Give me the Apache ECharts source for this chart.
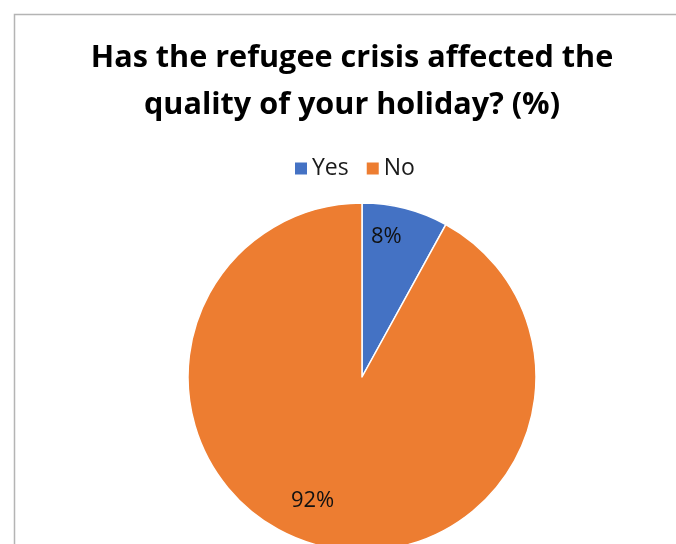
<!DOCTYPE html>
<html><head><meta charset="utf-8">
<script src="https://cdn.jsdelivr.net/npm/echarts@6/dist/echarts.min.js"></script>
<style>html,body{margin:0;padding:0;background:#fff}#c{width:676px;height:544px}</style>
</head><body><div id="c"></div>
<script>
const titleText = "Has the refugee crisis affected the\nquality of your holiday? (%)";
const categories = ["Yes", "No"];
const values = [8, 92];
const colors = ["#4472C4", "#ED7D31"];
const labelShift = [[2, -53], [-27, 37]];

const chart = echarts.init(document.getElementById('c'), null, {renderer: 'canvas'});
chart.setOption({
  backgroundColor: '#fff',
  animation: false,
  graphic: [{
    type: 'rect', left: 12, top: 12, z: -1,
    shape: {width: 720, height: 600},
    style: {fill: 'none', stroke: '#b4b4b4', lineWidth: 1.5}
  }],
  title: {
    text: titleText, left: 347, top: 30, textAlign: 'center',
    textStyle: {fontFamily: 'Open Sans', fontWeight: 'bold', fontSize: 30.6, lineHeight: 47, color: '#000'}
  },
  legend: {
    data: categories, top: 152, left: 288, itemWidth: 14, itemHeight: 14, itemGap: 16,
    icon: 'rect',
    textStyle: {fontFamily: 'Open Sans', fontSize: 23, color: '#1a1a1a', padding: [0, 0, 0, -1]}
  },
  series: [{
    type: 'pie', center: [362, 377], radius: 174, startAngle: 90, clockwise: true,
    data: categories.map((c, i) => ({name: c, value: values[i], itemStyle: {color: colors[i]}})),
    itemStyle: {borderColor: '#fff', borderWidth: 1.5},
    label: {show: true, position: 'inside', formatter: '{c}%', fontFamily: 'Open Sans', fontSize: 22, color: '#111'},
    labelLine: {show: false},
    labelLayout: function (p) { const s = labelShift[p.dataIndex]; return {dx: s[0], dy: s[1]}; },
    emphasis: {disabled: true}
  }]
});
</script></body></html>
